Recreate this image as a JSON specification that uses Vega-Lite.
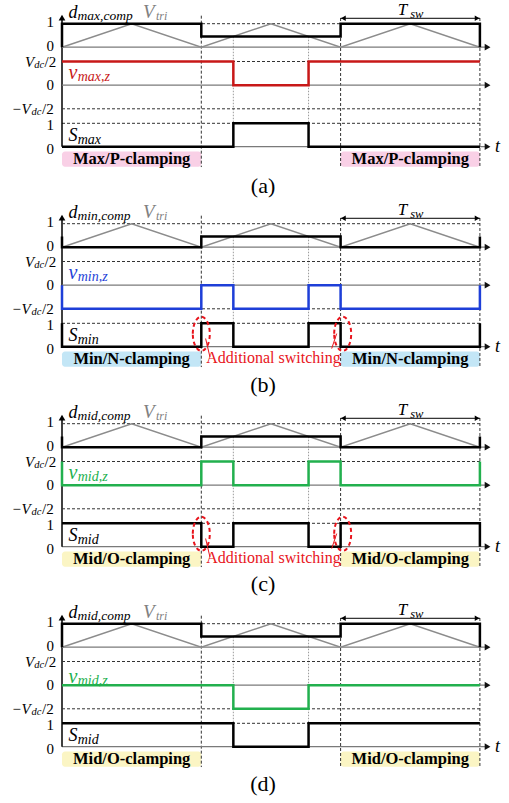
{
  "$schema": "https://vega.github.io/schema/vega-lite/v6.json",
  "description": "Switching waveforms of the clamping modes: compensated duty vs carrier, zero-sequence voltage and switching state for four cases.",
  "padding": 0,
  "background": "white",
  "data": {
    "values": [
      {"p": ["a","b","c","d"], "k": "topdash", "t": 0, "t2": 3, "y": 1},
      {"p": ["a","b","c","d"], "k": "topzero", "t": 0, "t2": 3.04, "y": 0},
      {"p": ["a","b","c","d"], "k": "toparrow", "t": 3.055, "y": 0},
      {"p": ["a","b","c","d"], "k": "vdash", "t": 0, "t2": 3, "y": 0.5},
      {"p": ["a","b","c","d"], "k": "vdash", "t": 0, "t2": 3, "y": -0.5},
      {"p": ["a","b","c","d"], "k": "vzero", "t": 0, "t2": 3.04, "y": 0},
      {"p": ["a","b","c","d"], "k": "varrow", "t": 3.055, "y": 0},
      {"p": ["a","b","c","d"], "k": "sdash", "t": 0, "t2": 3, "y": 1},
      {"p": ["a","b","c","d"], "k": "szero", "t": 0, "t2": 3.04, "y": 0},
      {"p": ["a","b","c","d"], "k": "sarrow", "t": 3.055, "y": 0},
      {"p": ["a","b","c","d"], "k": "yaxis", "t": 0, "y": 0, "y2": 5.45},
      {"p": ["a","b","c","d"], "k": "yarrow", "t": 0, "y": 5.52},
      {"p": ["a","b","c","d"], "k": "vline", "t": 1, "y": 5.6, "y2": -0.87},
      {"p": ["a","b","c","d"], "k": "vline", "t": 2, "y": 5.5, "y2": -0.87},
      {"p": ["a","b","c","d"], "k": "vline", "t": 3, "y": 5.5, "y2": -0.87},
      {"p": ["a","b","c","d"], "k": "dot", "t": 1.23, "y": 4.7, "y2": 0},
      {"p": ["a","b","c","d"], "k": "dot", "t": 1.77, "y": 4.7, "y2": 0},

      {"p": ["a","b","c","d"], "k": "tri", "t": 0, "y": 0},
      {"p": ["a","b","c","d"], "k": "tri", "t": 0.5, "y": 1},
      {"p": ["a","b","c","d"], "k": "tri", "t": 1, "y": 0},
      {"p": ["a","b","c","d"], "k": "tri", "t": 1.5, "y": 1},
      {"p": ["a","b","c","d"], "k": "tri", "t": 2, "y": 0},
      {"p": ["a","b","c","d"], "k": "tri", "t": 2.5, "y": 1},
      {"p": ["a","b","c","d"], "k": "tri", "t": 3, "y": 0},

      {"p": ["a","d"], "k": "d", "t": 0, "y": 0},
      {"p": ["a","d"], "k": "d", "t": 0, "y": 1},
      {"p": ["a","d"], "k": "d", "t": 1, "y": 0.46},
      {"p": ["a","d"], "k": "d", "t": 2, "y": 1},
      {"p": ["a","d"], "k": "d", "t": 3, "y": 0},
      {"p": ["b","c"], "k": "d", "t": 0, "y": 0.46},
      {"p": ["b","c"], "k": "d", "t": 0, "y": 0},
      {"p": ["b","c"], "k": "d", "t": 1, "y": 0.46},
      {"p": ["b","c"], "k": "d", "t": 2, "y": 0},
      {"p": ["b","c"], "k": "d", "t": 3, "y": 0.46},

      {"p": ["a"], "k": "v", "t": 0, "y": 0.5},
      {"p": ["a"], "k": "v", "t": 1.23, "y": 0},
      {"p": ["a"], "k": "v", "t": 1.77, "y": 0.5},
      {"p": ["a"], "k": "v", "t": 3, "y": 0.5},
      {"p": ["b"], "k": "v", "t": 0, "y": 0},
      {"p": ["b"], "k": "v", "t": 0, "y": -0.5},
      {"p": ["b"], "k": "v", "t": 1, "y": 0},
      {"p": ["b"], "k": "v", "t": 1.23, "y": -0.5},
      {"p": ["b"], "k": "v", "t": 1.77, "y": 0},
      {"p": ["b"], "k": "v", "t": 2, "y": -0.5},
      {"p": ["b"], "k": "v", "t": 3, "y": 0},
      {"p": ["c"], "k": "v", "t": 0, "y": 0.5},
      {"p": ["c"], "k": "v", "t": 0, "y": 0},
      {"p": ["c"], "k": "v", "t": 1, "y": 0.5},
      {"p": ["c"], "k": "v", "t": 1.23, "y": 0},
      {"p": ["c"], "k": "v", "t": 1.77, "y": 0.5},
      {"p": ["c"], "k": "v", "t": 2, "y": 0},
      {"p": ["c"], "k": "v", "t": 3, "y": 0.5},
      {"p": ["d"], "k": "v", "t": 0, "y": 0},
      {"p": ["d"], "k": "v", "t": 1.23, "y": -0.5},
      {"p": ["d"], "k": "v", "t": 1.77, "y": 0},
      {"p": ["d"], "k": "v", "t": 3, "y": 0},

      {"p": ["a"], "k": "S", "t": 0, "y": 0},
      {"p": ["a"], "k": "S", "t": 1.23, "y": 1},
      {"p": ["a"], "k": "S", "t": 1.77, "y": 0},
      {"p": ["a"], "k": "S", "t": 3, "y": 0},
      {"p": ["b"], "k": "S", "t": 0, "y": 1},
      {"p": ["b"], "k": "S", "t": 0, "y": 0},
      {"p": ["b"], "k": "S", "t": 1, "y": 1},
      {"p": ["b"], "k": "S", "t": 1.23, "y": 0},
      {"p": ["b"], "k": "S", "t": 1.77, "y": 1},
      {"p": ["b"], "k": "S", "t": 2, "y": 0},
      {"p": ["b"], "k": "S", "t": 3, "y": 1},
      {"p": ["c"], "k": "S", "t": 0, "y": 1},
      {"p": ["c"], "k": "S", "t": 1, "y": 0},
      {"p": ["c"], "k": "S", "t": 1.23, "y": 1},
      {"p": ["c"], "k": "S", "t": 1.77, "y": 0},
      {"p": ["c"], "k": "S", "t": 2, "y": 1},
      {"p": ["c"], "k": "S", "t": 3, "y": 0},
      {"p": ["d"], "k": "S", "t": 0, "y": 1},
      {"p": ["d"], "k": "S", "t": 1.23, "y": 0},
      {"p": ["d"], "k": "S", "t": 1.77, "y": 1},
      {"p": ["d"], "k": "S", "t": 3, "y": 1},

      {"p": ["a","b","c","d"], "k": "tsw", "t": 2, "t2": 3, "y": 1.23},
      {"p": ["a","b","c","d"], "k": "tswl", "t": 2.02, "y": 1.23},
      {"p": ["a","b","c","d"], "k": "tswr", "t": 2.98, "y": 1.23},
      {"p": ["a","b","c","d"], "k": "tswT", "t": 2.41, "y": 1.37, "txt": "T"},
      {"p": ["a","b","c","d"], "k": "tswS", "t": 2.5, "y": 1.255, "txt": "sw"},

      {"p": ["a","b","c","d"], "k": "ttick", "t": -0.057, "y": 1, "txt": "1"},
      {"p": ["a","b","c","d"], "k": "ttick", "t": -0.057, "y": 0, "txt": "0"},
      {"p": ["a","b","c","d"], "k": "stk", "t": -0.057, "y": 1, "txt": "1"},
      {"p": ["a","b","c","d"], "k": "stk", "t": -0.057, "y": 0, "txt": "0"},
      {"p": ["a","b","c","d"], "k": "vtk", "t": -0.057, "y": 0, "txt": "0"},
      {"p": ["a","b","c","d"], "k": "vtkv", "t": -0.2656, "y": 0.5, "txt": "V"},
      {"p": ["a","b","c","d"], "k": "vtks", "t": -0.199, "y": 0.5, "txt": "dc"},
      {"p": ["a","b","c","d"], "k": "vtkn", "t": -0.125, "y": 0.5, "txt": "/2"},
      {"p": ["a","b","c","d"], "k": "vtkn", "t": -0.3553, "y": -0.5, "txt": "−"},
      {"p": ["a","b","c","d"], "k": "vtkv", "t": -0.2907, "y": -0.5, "txt": "V"},
      {"p": ["a","b","c","d"], "k": "vtks", "t": -0.219, "y": -0.5, "txt": "dc"},
      {"p": ["a","b","c","d"], "k": "vtkn", "t": -0.1436, "y": -0.5, "txt": "/2"},

      {"p": ["a","b","c","d"], "k": "dn", "t": 0.0467, "y": 1.243, "txt": "d"},
      {"p": ["a"], "k": "dsub", "t": 0.112, "y": 1.157, "txt": "max,comp"},
      {"p": ["b"], "k": "dsub", "t": 0.112, "y": 1.157, "txt": "min,comp"},
      {"p": ["c","d"], "k": "dsub", "t": 0.112, "y": 1.157, "txt": "mid,comp"},
      {"p": ["a","b","c","d"], "k": "vt", "t": 0.5815, "y": 1.243, "txt": "V"},
      {"p": ["a","b","c","d"], "k": "vtsub", "t": 0.675, "y": 1.157, "txt": "tri"},
      {"p": ["a","b","c"], "k": "vn", "t": 0.0467, "y": 0.14, "txt": "v"},
      {"p": ["d"], "k": "vn", "t": 0.0467, "y": 0.05, "txt": "v"},
      {"p": ["a"], "k": "vsub", "t": 0.1125, "y": 0.09, "txt": "max,z"},
      {"p": ["b"], "k": "vsub", "t": 0.1125, "y": 0.09, "txt": "min,z"},
      {"p": ["c"], "k": "vsub", "t": 0.1125, "y": 0.09, "txt": "mid,z"},
      {"p": ["d"], "k": "vsub", "t": 0.1125, "y": 0.0, "txt": "mid,z"},
      {"p": ["a","b","c","d"], "k": "sn", "t": 0.0467, "y": 0.26, "txt": "S"},
      {"p": ["a"], "k": "ssub", "t": 0.1125, "y": 0.13, "txt": "max"},
      {"p": ["b"], "k": "ssub", "t": 0.1125, "y": 0.13, "txt": "min"},
      {"p": ["c","d"], "k": "ssub", "t": 0.1125, "y": 0.13, "txt": "mid"},
      {"p": ["a","b","c","d"], "k": "tlab", "t": 3.108, "y": -0.23, "txt": "t"},

      {"p": ["a","b","c","d"], "k": "box", "t": 0, "t2": 1, "y": -0.21, "y2": -0.855},
      {"p": ["a","b","c","d"], "k": "box", "t": 2, "t2": 3, "y": -0.21, "y2": -0.855},
      {"p": ["a"], "k": "boxtxt", "t": 0.5, "y": -0.53, "txt": "Max/P-clamping"},
      {"p": ["a"], "k": "boxtxt", "t": 2.5, "y": -0.53, "txt": "Max/P-clamping"},
      {"p": ["b"], "k": "boxtxt", "t": 0.5, "y": -0.53, "txt": "Min/N-clamping"},
      {"p": ["b"], "k": "boxtxt", "t": 2.5, "y": -0.53, "txt": "Min/N-clamping"},
      {"p": ["c","d"], "k": "boxtxt", "t": 0.5, "y": -0.53, "txt": "Mid/O-clamping"},
      {"p": ["c","d"], "k": "boxtxt", "t": 2.5, "y": -0.53, "txt": "Mid/O-clamping"},

      {"p": ["a"], "k": "cap", "t": 1.443, "y": -1.68, "txt": "(a)"},
      {"p": ["b"], "k": "cap", "t": 1.443, "y": -1.65, "txt": "(b)"},
      {"p": ["c"], "k": "cap", "t": 1.443, "y": -1.6, "txt": "(c)"},
      {"p": ["d"], "k": "cap", "t": 1.443, "y": -1.6, "txt": "(d)"},

      {"p": ["b","c"], "k": "ell", "t": 1.0, "y": 0.55},
      {"p": ["b","c"], "k": "ell", "t": 2.015, "y": 0.55},
      {"p": ["b","c"], "k": "conn", "t": 1.031, "y": 0.35, "t2": 1.062, "y2": -0.44},
      {"p": ["b","c"], "k": "conn", "t": 1.972, "y": 0.56, "t2": 1.936, "y2": -0.08},
      {"p": ["b","c"], "k": "addl", "t": 1.518, "y": -0.5, "txt": "Additional switching"}
    ]
  },
  "transform": [{"flatten": ["p"]}],
  "facet": {"row": {"field": "p", "type": "nominal", "title": null, "header": {"labels": false, "title": null}}},
  "spacing": {"row": 0},
  "bounds": "flush",
  "spec": {
    "width": 509,
    "height": 199.7,
    "resolve": {"scale": {"y": "independent"}},
    "layer": [
      {
        "layer": [
          {
            "transform": [{"filter": "datum.k=='box'"}],
            "mark": {"type": "rect", "cornerRadius": 3},
            "encoding": {
              "x": {"field": "t", "type": "quantitative", "scale": {"domain": [-0.4451, 3.2089], "nice": false, "zero": false}},
              "x2": {"field": "t2"},
              "y": {"field": "y", "type": "quantitative", "scale": {"domain": [0, 1], "range": [146.7, 123.3], "nice": false, "zero": false}},
              "y2": {"field": "y2"},
              "fill": {"field": "p", "type": "nominal", "scale": {"domain": ["a","b","c","d"], "range": ["#f9d0e6","#c3e6f6","#fbf5c4","#fbf5c4"]}, "legend": null}
            }
          },
          {
            "transform": [{"filter": "datum.k=='vline'"}],
            "mark": {"type": "rule", "color": "#333333", "strokeWidth": 1, "strokeDash": [3, 2]},
            "encoding": {"x": {"field": "t", "type": "quantitative"}, "y": {"field": "y", "type": "quantitative"}, "y2": {"field": "y2"}}
          },
          {
            "transform": [{"filter": "datum.k=='dot'"}],
            "mark": {"type": "rule", "color": "#9a9a9a", "strokeWidth": 1, "strokeDash": [1.5, 1.5]},
            "encoding": {"x": {"field": "t", "type": "quantitative"}, "y": {"field": "y", "type": "quantitative"}, "y2": {"field": "y2"}}
          },
          {
            "transform": [{"filter": "datum.k=='sdash'"}],
            "mark": {"type": "rule", "color": "#333333", "strokeWidth": 1, "strokeDash": [3, 2]},
            "encoding": {"x": {"field": "t", "type": "quantitative"}, "x2": {"field": "t2"}, "y": {"field": "y", "type": "quantitative"}}
          },
          {
            "transform": [{"filter": "datum.k=='szero'"}],
            "mark": {"type": "rule", "color": "#7a7a7a", "strokeWidth": 1.2},
            "encoding": {"x": {"field": "t", "type": "quantitative"}, "x2": {"field": "t2"}, "y": {"field": "y", "type": "quantitative"}}
          },
          {
            "transform": [{"filter": "datum.k=='sarrow'"}],
            "mark": {"type": "point", "shape": "triangle-right", "filled": true, "color": "#111111", "size": 45, "opacity": 1},
            "encoding": {"x": {"field": "t", "type": "quantitative"}, "y": {"field": "y", "type": "quantitative"}}
          },
          {
            "transform": [{"filter": "datum.k=='yaxis'"}],
            "mark": {"type": "rule", "color": "#000000", "strokeWidth": 1.5},
            "encoding": {"x": {"field": "t", "type": "quantitative"}, "y": {"field": "y", "type": "quantitative"}, "y2": {"field": "y2"}}
          },
          {
            "transform": [{"filter": "datum.k=='yarrow'"}],
            "mark": {"type": "point", "shape": "triangle-up", "filled": true, "color": "#000000", "size": 45, "opacity": 1},
            "encoding": {"x": {"field": "t", "type": "quantitative"}, "y": {"field": "y", "type": "quantitative"}}
          },
          {
            "transform": [{"filter": "datum.k=='S'"}],
            "mark": {"type": "line", "interpolate": "step-after", "color": "#000000", "strokeWidth": 2.5},
            "encoding": {"x": {"field": "t", "type": "quantitative"}, "y": {"field": "y", "type": "quantitative"}, "order": {"value": null}}
          },
          {
            "transform": [{"filter": "datum.k=='ell'"}],
            "mark": {"type": "point", "shape": "M-0.5,0A0.5,1,0,1,1,0.5,0A0.5,1,0,1,1,-0.5,0Z", "filled": false, "stroke": "#e8141c", "strokeWidth": 2, "strokeDash": [4, 3], "size": 1156, "opacity": 1},
            "encoding": {"x": {"field": "t", "type": "quantitative"}, "y": {"field": "y", "type": "quantitative"}}
          },
          {
            "transform": [{"filter": "datum.k=='conn'"}],
            "mark": {"type": "rule", "color": "#e8141c", "strokeWidth": 1},
            "encoding": {"x": {"field": "t", "type": "quantitative"}, "x2": {"field": "t2"}, "y": {"field": "y", "type": "quantitative"}, "y2": {"field": "y2"}}
          },
          {
            "transform": [{"filter": "datum.k=='stk'"}],
            "mark": {"type": "text", "font": "Liberation Serif", "fontSize": 15, "align": "right", "baseline": "middle", "dy": 2, "color": "#000000"},
            "encoding": {"x": {"field": "t", "type": "quantitative"}, "y": {"field": "y", "type": "quantitative"}, "text": {"field": "txt"}}
          },
          {
            "transform": [{"filter": "datum.k=='sn'"}],
            "mark": {"type": "text", "font": "Liberation Serif", "fontSize": 18, "fontStyle": "italic", "align": "left", "baseline": "alphabetic", "color": "#000000"},
            "encoding": {"x": {"field": "t", "type": "quantitative"}, "y": {"field": "y", "type": "quantitative"}, "text": {"field": "txt"}}
          },
          {
            "transform": [{"filter": "datum.k=='ssub'"}],
            "mark": {"type": "text", "font": "Liberation Serif", "fontSize": 14, "fontStyle": "italic", "align": "left", "baseline": "alphabetic", "color": "#000000"},
            "encoding": {"x": {"field": "t", "type": "quantitative"}, "y": {"field": "y", "type": "quantitative"}, "text": {"field": "txt"}}
          },
          {
            "transform": [{"filter": "datum.k=='tlab'"}],
            "mark": {"type": "text", "font": "Liberation Serif", "fontSize": 18, "fontStyle": "italic", "align": "left", "baseline": "alphabetic", "color": "#000000"},
            "encoding": {"x": {"field": "t", "type": "quantitative"}, "y": {"field": "y", "type": "quantitative"}, "text": {"field": "txt"}}
          },
          {
            "transform": [{"filter": "datum.k=='boxtxt'"}],
            "mark": {"type": "text", "font": "Liberation Serif", "fontSize": 16.5, "fontWeight": "bold", "align": "center", "baseline": "middle", "color": "#000000"},
            "encoding": {"x": {"field": "t", "type": "quantitative"}, "y": {"field": "y", "type": "quantitative"}, "text": {"field": "txt"}}
          },
          {
            "transform": [{"filter": "datum.k=='cap'"}],
            "mark": {"type": "text", "font": "Liberation Serif", "fontSize": 22, "align": "center", "baseline": "middle", "color": "#000000"},
            "encoding": {"x": {"field": "t", "type": "quantitative"}, "y": {"field": "y", "type": "quantitative"}, "text": {"field": "txt"}}
          },
          {
            "transform": [{"filter": "datum.k=='addl'"}],
            "mark": {"type": "text", "font": "Liberation Serif", "fontSize": 16, "align": "center", "baseline": "middle", "color": "#e8141c"},
            "encoding": {"x": {"field": "t", "type": "quantitative"}, "y": {"field": "y", "type": "quantitative"}, "text": {"field": "txt"}}
          }
        ]
      },
      {
        "layer": [
          {
            "transform": [{"filter": "datum.k=='topdash'"}],
            "mark": {"type": "rule", "color": "#333333", "strokeWidth": 1, "strokeDash": [3, 2]},
            "encoding": {
              "x": {"field": "t", "type": "quantitative"}, "x2": {"field": "t2"},
              "y": {"field": "y", "type": "quantitative", "scale": {"domain": [0, 1], "range": [47.2, 23.7], "nice": false, "zero": false}}
            }
          },
          {
            "transform": [{"filter": "datum.k=='topzero'"}],
            "mark": {"type": "rule", "color": "#7a7a7a", "strokeWidth": 1.2},
            "encoding": {"x": {"field": "t", "type": "quantitative"}, "x2": {"field": "t2"}, "y": {"field": "y", "type": "quantitative"}}
          },
          {
            "transform": [{"filter": "datum.k=='toparrow'"}],
            "mark": {"type": "point", "shape": "triangle-right", "filled": true, "color": "#111111", "size": 45, "opacity": 1},
            "encoding": {"x": {"field": "t", "type": "quantitative"}, "y": {"field": "y", "type": "quantitative"}}
          },
          {
            "transform": [{"filter": "datum.k=='tri'"}],
            "mark": {"type": "line", "color": "#8c8c8c", "strokeWidth": 1.5},
            "encoding": {"x": {"field": "t", "type": "quantitative"}, "y": {"field": "y", "type": "quantitative"}, "order": {"value": null}}
          },
          {
            "transform": [{"filter": "datum.k=='d'"}],
            "mark": {"type": "line", "interpolate": "step-after", "color": "#000000", "strokeWidth": 2.5},
            "encoding": {"x": {"field": "t", "type": "quantitative"}, "y": {"field": "y", "type": "quantitative"}, "order": {"value": null}}
          },
          {
            "transform": [{"filter": "datum.k=='tsw'"}],
            "mark": {"type": "rule", "color": "#000000", "strokeWidth": 1},
            "encoding": {"x": {"field": "t", "type": "quantitative"}, "x2": {"field": "t2"}, "y": {"field": "y", "type": "quantitative"}}
          },
          {
            "transform": [{"filter": "datum.k=='tswl'"}],
            "mark": {"type": "point", "shape": "triangle-left", "filled": true, "color": "#000000", "size": 30, "opacity": 1},
            "encoding": {"x": {"field": "t", "type": "quantitative"}, "y": {"field": "y", "type": "quantitative"}}
          },
          {
            "transform": [{"filter": "datum.k=='tswr'"}],
            "mark": {"type": "point", "shape": "triangle-right", "filled": true, "color": "#000000", "size": 30, "opacity": 1},
            "encoding": {"x": {"field": "t", "type": "quantitative"}, "y": {"field": "y", "type": "quantitative"}}
          },
          {
            "transform": [{"filter": "datum.k=='ttick'"}],
            "mark": {"type": "text", "font": "Liberation Serif", "fontSize": 15, "align": "right", "baseline": "middle", "dy": -1.5, "color": "#000000"},
            "encoding": {"x": {"field": "t", "type": "quantitative"}, "y": {"field": "y", "type": "quantitative"}, "text": {"field": "txt"}}
          },
          {
            "transform": [{"filter": "datum.k=='dn'"}],
            "mark": {"type": "text", "font": "Liberation Serif", "fontSize": 18, "fontStyle": "italic", "align": "left", "baseline": "alphabetic", "color": "#000000"},
            "encoding": {"x": {"field": "t", "type": "quantitative"}, "y": {"field": "y", "type": "quantitative"}, "text": {"field": "txt"}}
          },
          {
            "transform": [{"filter": "datum.k=='dsub'"}],
            "mark": {"type": "text", "font": "Liberation Serif", "fontSize": 13.5, "fontStyle": "italic", "align": "left", "baseline": "alphabetic", "color": "#000000"},
            "encoding": {"x": {"field": "t", "type": "quantitative"}, "y": {"field": "y", "type": "quantitative"}, "text": {"field": "txt"}}
          },
          {
            "transform": [{"filter": "datum.k=='vt'"}],
            "mark": {"type": "text", "font": "Liberation Serif", "fontSize": 19, "fontStyle": "italic", "align": "left", "baseline": "alphabetic", "color": "#808080"},
            "encoding": {"x": {"field": "t", "type": "quantitative"}, "y": {"field": "y", "type": "quantitative"}, "text": {"field": "txt"}}
          },
          {
            "transform": [{"filter": "datum.k=='vtsub'"}],
            "mark": {"type": "text", "font": "Liberation Serif", "fontSize": 12, "fontStyle": "italic", "align": "left", "baseline": "alphabetic", "color": "#808080"},
            "encoding": {"x": {"field": "t", "type": "quantitative"}, "y": {"field": "y", "type": "quantitative"}, "text": {"field": "txt"}}
          },
          {
            "transform": [{"filter": "datum.k=='tswT'"}],
            "mark": {"type": "text", "font": "Liberation Serif", "fontSize": 17, "fontStyle": "italic", "align": "left", "baseline": "alphabetic", "color": "#000000"},
            "encoding": {"x": {"field": "t", "type": "quantitative"}, "y": {"field": "y", "type": "quantitative"}, "text": {"field": "txt"}}
          },
          {
            "transform": [{"filter": "datum.k=='tswS'"}],
            "mark": {"type": "text", "font": "Liberation Serif", "fontSize": 12.5, "fontStyle": "italic", "align": "left", "baseline": "alphabetic", "color": "#000000"},
            "encoding": {"x": {"field": "t", "type": "quantitative"}, "y": {"field": "y", "type": "quantitative"}, "text": {"field": "txt"}}
          }
        ]
      },
      {
        "layer": [
          {
            "transform": [{"filter": "datum.k=='vdash'"}],
            "mark": {"type": "rule", "color": "#333333", "strokeWidth": 1, "strokeDash": [3, 2]},
            "encoding": {
              "x": {"field": "t", "type": "quantitative"}, "x2": {"field": "t2"},
              "y": {"field": "y", "type": "quantitative", "scale": {"domain": [-0.5, 0.5], "range": [108.8, 61.5], "nice": false, "zero": false}}
            }
          },
          {
            "transform": [{"filter": "datum.k=='vzero'"}],
            "mark": {"type": "rule", "color": "#7a7a7a", "strokeWidth": 1.2},
            "encoding": {"x": {"field": "t", "type": "quantitative"}, "x2": {"field": "t2"}, "y": {"field": "y", "type": "quantitative"}}
          },
          {
            "transform": [{"filter": "datum.k=='varrow'"}],
            "mark": {"type": "point", "shape": "triangle-right", "filled": true, "color": "#111111", "size": 45, "opacity": 1},
            "encoding": {"x": {"field": "t", "type": "quantitative"}, "y": {"field": "y", "type": "quantitative"}}
          },
          {
            "transform": [{"filter": "datum.k=='v'"}],
            "mark": {"type": "line", "interpolate": "step-after", "strokeWidth": 2.5},
            "encoding": {
              "x": {"field": "t", "type": "quantitative"}, "y": {"field": "y", "type": "quantitative"}, "order": {"value": null},
              "stroke": {"field": "p", "type": "nominal", "scale": {"domain": ["a","b","c","d"], "range": ["#c81818","#1e3fd8","#22b04e","#22b04e"]}, "legend": null}
            }
          },
          {
            "transform": [{"filter": "datum.k=='vtk'"}],
            "mark": {"type": "text", "font": "Liberation Serif", "fontSize": 15, "align": "right", "baseline": "middle", "color": "#000000"},
            "encoding": {"x": {"field": "t", "type": "quantitative"}, "y": {"field": "y", "type": "quantitative"}, "text": {"field": "txt"}}
          },
          {
            "transform": [{"filter": "datum.k=='vtkn'"}],
            "mark": {"type": "text", "font": "Liberation Serif", "fontSize": 15, "align": "left", "baseline": "middle", "dy": 0.5, "color": "#000000"},
            "encoding": {"x": {"field": "t", "type": "quantitative"}, "y": {"field": "y", "type": "quantitative"}, "text": {"field": "txt"}}
          },
          {
            "transform": [{"filter": "datum.k=='vtkv'"}],
            "mark": {"type": "text", "font": "Liberation Serif", "fontSize": 15, "fontStyle": "italic", "align": "left", "baseline": "middle", "dy": 0.5, "color": "#000000"},
            "encoding": {"x": {"field": "t", "type": "quantitative"}, "y": {"field": "y", "type": "quantitative"}, "text": {"field": "txt"}}
          },
          {
            "transform": [{"filter": "datum.k=='vtks'"}],
            "mark": {"type": "text", "font": "Liberation Serif", "fontSize": 10.5, "fontStyle": "italic", "align": "left", "baseline": "middle", "dy": 3.5, "color": "#000000"},
            "encoding": {"x": {"field": "t", "type": "quantitative"}, "y": {"field": "y", "type": "quantitative"}, "text": {"field": "txt"}}
          },
          {
            "transform": [{"filter": "datum.k=='vn'"}],
            "mark": {"type": "text", "font": "Liberation Serif", "fontSize": 20, "fontStyle": "italic", "align": "left", "baseline": "alphabetic"},
            "encoding": {
              "x": {"field": "t", "type": "quantitative"}, "y": {"field": "y", "type": "quantitative"}, "text": {"field": "txt"},
              "color": {"field": "p", "type": "nominal", "scale": {"domain": ["a","b","c","d"], "range": ["#c81818","#1e3fd8","#22b04e","#22b04e"]}, "legend": null}
            }
          },
          {
            "transform": [{"filter": "datum.k=='vsub'"}],
            "mark": {"type": "text", "font": "Liberation Serif", "fontSize": 14, "fontStyle": "italic", "align": "left", "baseline": "alphabetic"},
            "encoding": {
              "x": {"field": "t", "type": "quantitative"}, "y": {"field": "y", "type": "quantitative"}, "text": {"field": "txt"},
              "color": {"field": "p", "type": "nominal", "scale": {"domain": ["a","b","c","d"], "range": ["#c81818","#1e3fd8","#22b04e","#22b04e"]}, "legend": null}
            }
          }
        ]
      }
    ]
  },
  "config": {
    "view": {"stroke": null},
    "axis": {"disable": true},
    "legend": {"disable": true},
    "text": {"font": "Liberation Serif"}
  }
}
